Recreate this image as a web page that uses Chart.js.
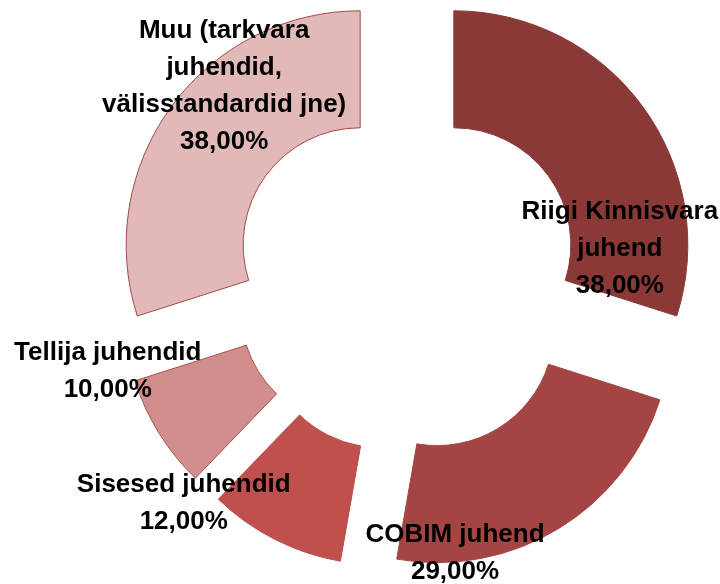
<!DOCTYPE html>
<html>
<head>
<meta charset="utf-8">
<script src="https://cdn.jsdelivr.net/npm/chart.js@4.4.1/dist/chart.umd.min.js"></script>
<style>
  html, body { margin: 0; padding: 0; background: #ffffff; }
  #c { display: block; }
</style>
</head>
<body>
<canvas id="c" width="720" height="584"></canvas>
<script>
// ---- data ----
const CATEGORIES = [
  ["Riigi Kinnisvara", "juhend"],
  ["COBIM juhend"],
  ["Sisesed juhendid"],
  ["Tellija juhendid"],
  ["Muu (tarkvara", "juhendid,", "välisstandardid jne)"]
];
const VALUES = [38, 29, 12, 10, 38];

// ---- styles ----
const FILL_COLORS   = ["#8B3937", "#A54543", "#C0504D", "#D28E8C", "#E0B9B8"];
const BORDER_COLORS = ["#8B3937", "#A54543", "#B84B48", "#A9504E", "#A24A48"];
const EXPLODE = 58;            // px each slice is pulled out along its mid-angle
const LABEL_FONT = "bold 26px 'Liberation Sans', Arial, sans-serif";
const LINE_HEIGHT = 37;
// label block centre relative to the exploded slice centre (px)
const LABEL_NUDGE = [[166, 4], [18, 225], [-197, 173], [-250, 62], [-136, -158]];

function fmtPct(v) { return v.toFixed(2).replace('.', ',') + '%'; }

const explodePlugin = {
  id: 'explode',
  beforeDatasetDraw(chart, args) {
    const ctx = chart.ctx;
    args.meta.data.forEach(arc => {
      const mid = (arc.startAngle + arc.endAngle) / 2;
      ctx.save();
      ctx.translate(Math.cos(mid) * EXPLODE, Math.sin(mid) * EXPLODE);
      arc.draw(ctx);
      ctx.restore();
    });
    return false;
  }
};

const labelPlugin = {
  id: 'sliceLabels',
  afterDraw(chart) {
    const ctx = chart.ctx;
    const meta = chart.getDatasetMeta(0);
    ctx.save();
    ctx.font = LABEL_FONT;
    ctx.fillStyle = '#000000';
    ctx.textAlign = 'center';
    ctx.textBaseline = 'middle';
    meta.data.forEach((arc, i) => {
      const mid = (arc.startAngle + arc.endAngle) / 2;
      const cx = arc.x + Math.cos(mid) * EXPLODE + LABEL_NUDGE[i][0];
      const cy = arc.y + Math.sin(mid) * EXPLODE + LABEL_NUDGE[i][1];
      const lines = CATEGORIES[i].concat([fmtPct(VALUES[i])]);
      const top = cy - (lines.length - 1) * LINE_HEIGHT / 2;
      lines.forEach((t, k) => ctx.fillText(t, cx, top + k * LINE_HEIGHT));
    });
    ctx.restore();
  }
};

new Chart(document.getElementById('c'), {
  type: 'doughnut',
  data: {
    labels: CATEGORIES,
    datasets: [{
      data: VALUES,
      backgroundColor: FILL_COLORS,
      borderColor: BORDER_COLORS,
      borderWidth: 1
    }]
  },
  options: {
    responsive: false,
    animation: false,
    radius: 234,
    cutout: '50%',
    layout: { padding: { left: 94, right: 0, top: 0, bottom: 26 } },
    plugins: { legend: { display: false }, tooltip: { enabled: false } }
  },
  plugins: [explodePlugin, labelPlugin]
});
</script>
</body>
</html>
